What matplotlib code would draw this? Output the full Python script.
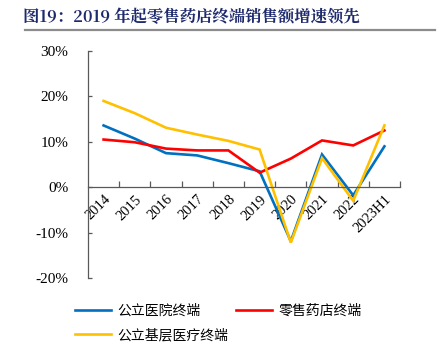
import matplotlib
matplotlib.use("Agg")
import matplotlib.pyplot as plt
from matplotlib.lines import Line2D

plt.rcParams['font.family'] = ['Liberation Serif', 'Noto Sans CJK SC']

categories = ['2014', '2015', '2016', '2017', '2018', '2019', '2020', '2021', '2022', '2023H1']
public_hospital = [13.6, 10.7, 7.5, 7.0, 5.3, 3.5, -11.9, 7.2, -1.8, 9.0]
retail_pharmacy = [10.5, 9.9, 8.5, 8.1, 8.1, 3.2, 6.3, 10.3, 9.2, 12.5]
primary_care = [19.0, 16.3, 13.1, 11.6, 10.2, 8.3, -12.2, 6.4, -3.0, 13.6]
series_names = ['公立医院终端', '零售药店终端', '公立基层医疗终端']

colors = ['#0070C0', '#FF0000', '#FFC000']

fig = plt.figure(figsize=(4.43, 3.51), dpi=100)

# title and rule line
fig.text(0.052, 0.952, '图19：2019 年起零售药店终端销售额增速领先', fontsize=11.8,
         fontweight='bold', color='#1F2A6E', ha='left', va='center',
         family=['Noto Serif CJK SC', 'Noto Sans CJK SC'])
fig.add_artist(Line2D([0.056, 0.982], [0.9145, 0.9145], color='#8C8C8C', lw=1.6))

ax = fig.add_axes([0.1986, 0.208, 0.7044, 0.6467])
x = list(range(len(categories)))
lines = []
for ys, c in zip([public_hospital, retail_pharmacy, primary_care], colors):
    l, = ax.plot(x, ys, color=c, lw=1.9, solid_joinstyle='miter')
    lines.append(l)

ax.set_xlim(-0.5, len(categories) - 0.5)
ax.set_ylim(-20, 30)
ax.set_yticks([-20, -10, 0, 10, 20, 30])
ax.set_yticklabels(['-20%', '-10%', '0%', '10%', '20%', '30%'])

ax.spines['top'].set_visible(False)
ax.spines['right'].set_visible(False)
ax.spines['bottom'].set_position(('data', 0))
for s in ['left', 'bottom']:
    ax.spines[s].set_color('#595959')
    ax.spines[s].set_linewidth(0.9)

ax.set_xticks(x)
ax.set_xticklabels(categories, rotation=45, ha='right', va='top',
                   rotation_mode='anchor', fontsize=10.5)
ax.tick_params(axis='x', which='major', length=0, pad=4)
ax.set_xticks([i + 0.5 for i in x], minor=True)
ax.tick_params(axis='x', which='minor', direction='in', length=4,
               color='#595959', width=0.9)
ax.tick_params(axis='y', direction='in', length=3, color='#595959',
               width=0.9, labelsize=11, pad=14)

# column-major fill: blue, yellow in col 1; red in col 2
order = [0, 2, 1]
fig.legend([lines[i] for i in order], [series_names[i] for i in order],
           loc='upper left', bbox_to_anchor=(0.14, 0.17),
           ncol=2, frameon=False, prop={'family': 'Noto Sans CJK SC', 'size': 10},
           handlelength=2.6, columnspacing=0.5, labelspacing=0.75, handletextpad=0.5)

fig.savefig('out.png', dpi=100)
